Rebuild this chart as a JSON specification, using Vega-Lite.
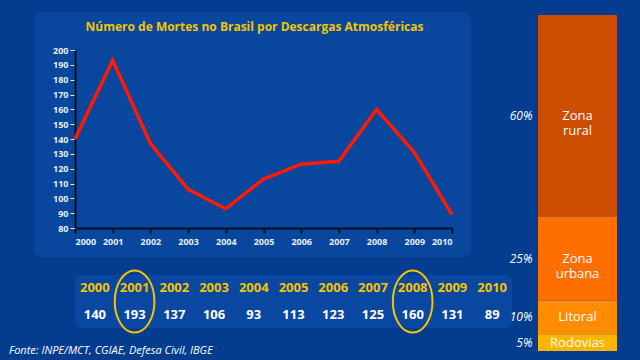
{
  "$schema": "https://vega.github.io/schema/vega-lite/v6.json",
  "background": "#043d90",
  "padding": {"left": 8, "top": 12, "right": 23, "bottom": 12},
  "title": {"text": "Fonte: INPE/MCT, CGIAE, Defesa Civil, IBGE", "orient": "bottom", "anchor": "start", "color": "white", "fontSize": 11, "font": "Open Sans", "fontStyle": "italic", "fontWeight": "normal", "dx": -25, "offset": -6},
  "config": {"view": {"stroke": null}, "font": "Open Sans"},
  "spacing": -3,
  "resolve": {"scale": {"color": "independent"}},
  "hconcat": [
    {
      "spacing": 8,
      "vconcat": [
        {
          "width": 377,
          "height": 178,
          "title": {"text": "Número de Mortes no Brasil por Descargas Atmosféricas", "color": "#f5c400", "fontSize": 12, "fontWeight": "bold", "offset": -22, "dx": -9},
          "layer": [
            {
              "data": {"values": [{}]},
              "mark": {"type": "rect", "fill": "#328cff", "opacity": 0.13, "cornerRadius": 8},
              "encoding": {
                "x": {"datum": 1998.91, "type": "quantitative", "scale": {"domain": [2000, 2010], "nice": false, "zero": false}},
                "x2": {"datum": 2010.5},
                "y": {"datum": 225.6, "type": "quantitative", "scale": {"domain": [80, 200], "nice": false, "zero": false}},
                "y2": {"datum": 60.4}
              }
            },
            {
              "data": {"values": [
                {"ano": 2000, "mortes": 140}, {"ano": 2001, "mortes": 193}, {"ano": 2002, "mortes": 137},
                {"ano": 2003, "mortes": 106}, {"ano": 2004, "mortes": 93}, {"ano": 2005, "mortes": 113},
                {"ano": 2006, "mortes": 123}, {"ano": 2007, "mortes": 125}, {"ano": 2008, "mortes": 160},
                {"ano": 2009, "mortes": 131}, {"ano": 2010, "mortes": 89}
              ]},
              "mark": {"type": "line", "color": "#ff1a00", "strokeWidth": 3.5},
              "encoding": {
                "x": {"field": "ano", "type": "quantitative", "axis": {"title": null, "format": "d", "tickCount": 10, "labelColor": "white", "labelFontSize": 9, "labelFontWeight": "bold", "tickColor": "black", "tickWidth": 2, "tickSize": 5, "domainColor": "black", "domainWidth": 2, "grid": false, "labelPadding": 4}},
                "y": {"field": "mortes", "type": "quantitative", "axis": {"title": null, "tickCount": 13, "labelColor": "white", "labelFontSize": 9, "labelFontWeight": "bold", "tickColor": "white", "tickSize": 5, "domainColor": "black", "domainWidth": 2, "gridColor": "white", "gridWidth": 2, "gridOpacity": 1, "labelPadding": 2}}
              }
            }
          ]
        },
        {
          "width": 437,
          "height": 53,
          "view": {"fill": "#0a47a0", "cornerRadius": 6, "stroke": null},
          "data": {"values": [
            {"ano": 2000, "mortes": 140}, {"ano": 2001, "mortes": 193}, {"ano": 2002, "mortes": 137},
            {"ano": 2003, "mortes": 106}, {"ano": 2004, "mortes": 93}, {"ano": 2005, "mortes": 113},
            {"ano": 2006, "mortes": 123}, {"ano": 2007, "mortes": 125}, {"ano": 2008, "mortes": 160},
            {"ano": 2009, "mortes": 131}, {"ano": 2010, "mortes": 89}
          ]},
          "transform": [{"fold": ["ano", "mortes"], "as": ["campo", "valor"]}],
          "layer": [
            {
              "mark": {"type": "text", "fontSize": 13, "fontWeight": "bold", "baseline": "middle"},
              "encoding": {
                "x": {"field": "ano", "type": "ordinal", "axis": null, "scale": {"paddingInner": 0, "paddingOuter": 0}},
                "y": {"field": "campo", "type": "nominal", "axis": null, "scale": {"domain": ["ano", "mortes"], "paddingOuter": 0.15, "paddingInner": 0}},
                "text": {"field": "valor", "type": "quantitative", "format": "d"},
                "color": {"field": "campo", "type": "nominal", "scale": {"domain": ["ano", "mortes"], "range": ["#f5c400", "#ffffff"]}, "legend": null}
              }
            },
            {
              "transform": [{"filter": "datum.campo == 'ano' && (datum.ano == 2001 || datum.ano == 2008)"}],
              "mark": {"type": "point", "shape": "M0,-1 A0.64,1 0 1,1 0,1 A0.64,1 0 1,1 0,-1 Z", "size": 3844, "filled": false, "stroke": "#f5c400", "strokeWidth": 2, "opacity": 1},
              "encoding": {
                "x": {"field": "ano", "type": "ordinal"}
              }
            }
          ]
        }
      ]
    },
    {
      "width": 79,
      "height": 301,
      "data": {"values": [
        {"categoria": "Zona rural", "pct": 60},
        {"categoria": "Zona urbana", "pct": 25},
        {"categoria": "Litoral", "pct": 10},
        {"categoria": "Rodovias", "pct": 5}
      ]},
      "transform": [
        {"stack": "pct", "groupby": [], "sort": [{"field": "pct", "order": "ascending"}], "as": ["y0", "y1"]},
        {"calculate": "(datum.y0 + datum.y1) / 2", "as": "meio"},
        {"calculate": "datum.pct + '%'", "as": "rotulo"}
      ],
      "encoding": {
        "x": {"datum": "Mortes", "type": "nominal", "axis": null, "scale": {"paddingInner": 0, "paddingOuter": 0}}
      },
      "layer": [
        {
          "mark": {"type": "bar"},
          "encoding": {
            "y": {"field": "y0", "type": "quantitative", "axis": null, "scale": {"domain": [0, 89.58], "nice": false, "zero": true}},
            "y2": {"field": "y1"},
            "color": {"field": "categoria", "type": "nominal", "scale": {"domain": ["Zona rural", "Zona urbana", "Litoral", "Rodovias"], "range": ["#cc4c00", "#ff6f00", "#ff8c00", "#ffb400"]}, "legend": null}
          }
        },
        {
          "mark": {"type": "text", "color": "white", "fontSize": 13, "lineBreak": " ", "baseline": "middle"},
          "encoding": {
            "y": {"field": "meio", "type": "quantitative"},
            "text": {"field": "categoria"}
          }
        },
        {
          "mark": {"type": "text", "color": "white", "fontSize": 12, "fontStyle": "italic", "align": "right", "baseline": "middle", "dx": -45},
          "encoding": {
            "y": {"field": "meio", "type": "quantitative"},
            "text": {"field": "rotulo"}
          }
        }
      ]
    }
  ]
}
